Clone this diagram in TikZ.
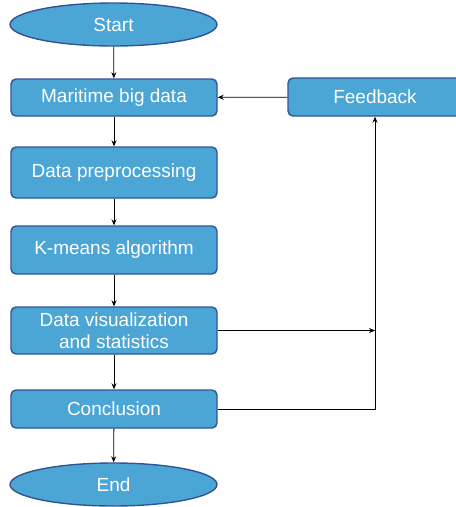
\documentclass[tikz,border=0pt]{standalone}
\usepackage{fontspec}
\setmainfont{Liberation Sans}
\usetikzlibrary{shapes.geometric,arrows.meta}
\definecolor{boxfill}{HTML}{4BA6D5}
\definecolor{boxline}{HTML}{2F5597}
\begin{document}
\begin{tikzpicture}[x=1pt,y=-1pt,
  base/.style={fill=boxfill,draw=boxline,line width=1.4pt,text=white,font=\fontsize{19}{22.5}\selectfont,align=center,inner sep=0pt},
  proc/.style={base,rectangle,rounded corners=5pt,minimum width=206pt},
  term/.style={base,ellipse,minimum width=207pt,minimum height=43pt},
  conn/.style={-{Stealth[length=6pt,width=5pt]},line width=0.8pt}]
\useasboundingbox (0,0) rectangle (456,507);
\begin{scope}
\clip (0,0) rectangle (456,507);
\node[term] (start) at (113.5,24.5) {Start};
\node[proc,minimum height=37pt] (mbd) at (114,97.5) {Maritime big data};
\node[proc,minimum height=38pt,minimum width=174pt] (fb) at (375,97) {Feedback};
\node[proc,minimum height=51pt] (pre) at (114,172.5) {Data preprocessing};
\node[proc,minimum height=48pt] (km) at (114,250) {K-means algorithm};
\node[proc,minimum height=47pt] (vis) at (114,330.5) {Data visualization\\and statistics};
\node[proc,minimum height=38pt] (con) at (114,409) {Conclusion};
\node[term] (end) at (113.5,484.5) {End};
\end{scope}
\coordinate (j1) at (375,330.5);
\coordinate (j2) at (375,409);
\draw[conn] (start) -- (mbd);
\draw[conn] (mbd) -- (pre);
\draw[conn] (pre) -- (km);
\draw[conn] (km) -- (vis);
\draw[conn] (vis) -- (con);
\draw[conn] (con) -- (end);
\draw[conn] (fb) -- (mbd);
\draw[conn] (vis.east) -- (j1);
\draw[conn] (con.east) -- (j2) -- (fb.south);
\end{tikzpicture}
\end{document}
